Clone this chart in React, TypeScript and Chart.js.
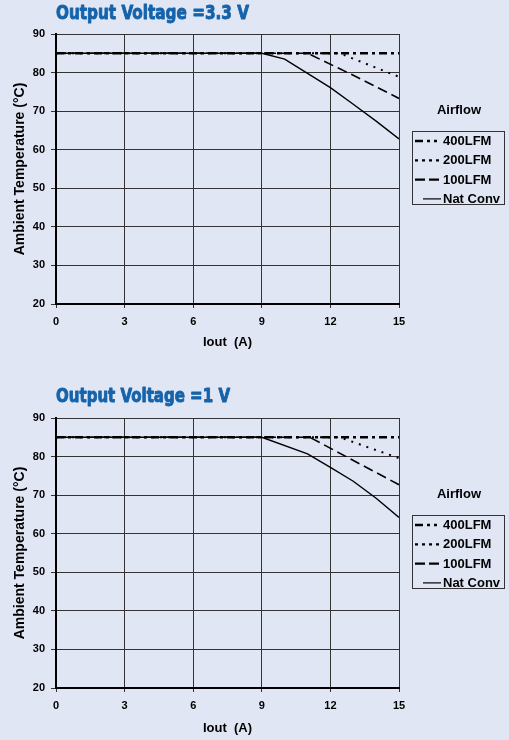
import React, { useEffect, useRef } from 'react';
import { Chart, registerables } from 'chart.js';

Chart.register(...registerables);

// ---------- data ----------
const xTickValues = [0, 3, 6, 9, 12, 15];
const yTickValues = [20, 30, 40, 50, 60, 70, 80, 90];
const seriesLabels = ['400LFM', '200LFM', '100LFM', 'Nat Conv'];

// Output Voltage = 3.3 V
const v33Lfm400X = [0, 15];
const v33Lfm400Y = [85, 85];
const v33Lfm200X = [0, 12.4, 15];
const v33Lfm200Y = [85, 85, 78.9];
const v33Lfm100X = [0, 11, 13, 15];
const v33Lfm100Y = [85, 85, 79.3, 73.3];
const v33NatX = [0, 9, 10, 11, 12, 13, 14, 15];
const v33NatY = [85, 85, 83.5, 79.8, 76.1, 71.8, 67.4, 62.8];

// Output Voltage = 1 V
const v1Lfm400X = [0, 15];
const v1Lfm400Y = [85, 85];
const v1Lfm200X = [0, 12.4, 15];
const v1Lfm200Y = [85, 85, 79.6];
const v1Lfm100X = [0, 11.1, 15];
const v1Lfm100Y = [85, 85, 72.7];
const v1NatX = [0, 9, 11, 12, 13, 14, 15];
const v1NatY = [85, 85, 80.7, 77.2, 73.6, 69.2, 64.2];

const BG = '#e0e6f4';
const TITLE_BLUE = '#1463ab';
const FONT = '"Liberation Sans", Arial, sans-serif';

const lineStyles = [
  { dash: [8, 4, 3, 4], legendDash: [8, 4, 3, 4, 3, 4], width: 2.5 },
  { dash: [2, 6], legendDash: [3, 4], width: 2 },
  { dash: [10, 5], legendDash: [10, 4], width: 1.6 },
  { dash: [], legendDash: [], width: 1.4 },
];

const zip = (xs: number[], ys: number[]) => xs.map((x, i) => ({ x, y: ys[i] }));

type Geo = {
  title: string;
  titleWidth: number;
  titleY: number;
  plotTop: number;
  plotBottom: number;
  height: number;
  xTitlePad: number;
};

function makeChart(canvas: HTMLCanvasElement, geo: Geo, xs: number[][], ys: number[][]) {
  const datasets = seriesLabels.map((label, i) => ({
    label,
    data: zip(xs[i], ys[i]),
    borderColor: '#000',
    backgroundColor: '#000',
    borderWidth: lineStyles[i].width,
    borderDash: lineStyles[i].dash,
    pointRadius: 0,
    tension: 0,
    fill: false,
  }));

  const overlay = {
    id: 'overlay',
    afterDraw(chart: any) {
      const ctx = chart.ctx as CanvasRenderingContext2D;
      const area = chart.chartArea;
      // title
      ctx.save();
      ctx.font = 'bold 20px "Liberation Sans Narrow", "DejaVu Sans Condensed", "Liberation Sans", sans-serif';
      ctx.fillStyle = TITLE_BLUE;
      ctx.strokeStyle = TITLE_BLUE;
      ctx.lineWidth = 0.9;
      ctx.lineJoin = 'round';
      ctx.textBaseline = 'middle';
      ctx.textAlign = 'left';
      const w = ctx.measureText(geo.title).width;
      ctx.translate(area.left, geo.titleY);
      ctx.scale(geo.titleWidth / w, 1);
      ctx.fillText(geo.title, 0, 0);
      ctx.strokeText(geo.title, 0, 0);
      ctx.restore();

      // legend
      const top = area.top;
      ctx.save();
      ctx.font = `bold 13px ${FONT}`;
      ctx.fillStyle = '#000';
      ctx.textBaseline = 'middle';
      ctx.textAlign = 'center';
      ctx.fillText('Airflow', 459, top + 76);
      ctx.strokeStyle = '#333';
      ctx.lineWidth = 1;
      ctx.strokeRect(412.5, top + 97.5, 92, 73);
      ctx.textAlign = 'left';
      seriesLabels.forEach((label, i) => {
        const y = top + 107 + i * 19.3;
        ctx.save();
        ctx.strokeStyle = '#000';
        ctx.lineWidth = i === 0 ? 2.5 : i === 3 ? 1.2 : 2.2;
        ctx.setLineDash(lineStyles[i].legendDash);
        ctx.beginPath();
        ctx.moveTo(i === 3 ? 423 : 415, y);
        ctx.lineTo(441, y);
        ctx.stroke();
        ctx.restore();
        ctx.fillText(label, 443, y + 0.5);
      });
      ctx.restore();
    },
  };

  return new Chart(canvas, {
    type: 'line',
    data: { datasets },
    plugins: [overlay],
    options: {
      animation: false,
      responsive: false,
      devicePixelRatio: 1,
      layout: { padding: { top: geo.plotTop, left: 0, right: 110, bottom: 0 } },
      plugins: {
        legend: { display: false },
        title: { display: false },
        tooltip: { enabled: false },
      },
      scales: {
        x: {
          type: 'linear',
          min: 0,
          max: 15,
          afterBuildTicks: (s: any) => {
            s.ticks = xTickValues.map((v) => ({ value: v }));
          },
          afterFit: (s: any) => {
            s.height = geo.height - geo.plotBottom;
          },
          ticks: {
            color: '#000',
            font: { family: FONT, size: 11, weight: 'bold' },
            padding: 7,
            maxRotation: 0,
          },
          grid: { color: '#333', lineWidth: 1, tickLength: 4, drawTicks: true },
          border: { display: true, color: '#000', width: 2 },
          title: {
            display: true,
            text: 'Iout  (A)',
            color: '#000',
            font: { family: FONT, size: 13, weight: 'bold' },
            padding: { top: 0, bottom: geo.xTitlePad },
          },
        },
        y: {
          type: 'linear',
          min: 20,
          max: 90,
          afterBuildTicks: (s: any) => {
            s.ticks = yTickValues.map((v) => ({ value: v }));
          },
          afterFit: (s: any) => {
            s.width = 56;
          },
          ticks: {
            color: '#000',
            font: { family: FONT, size: 11, weight: 'bold' },
            padding: 6,
          },
          grid: { color: '#333', lineWidth: 1, tickLength: 5, drawTicks: true },
          border: { display: true, color: '#000', width: 2 },
          title: {
            display: true,
            text: 'Ambient Temperature (°C)',
            color: '#000',
            font: { family: FONT, size: 14, weight: 'bold' },
            padding: { top: 12, bottom: 0 },
          },
        },
      },
    } as any,
  });
}

function Panel({ geo, xs, ys }: { geo: Geo; xs: number[][]; ys: number[][] }) {
  const ref = useRef<HTMLCanvasElement | null>(null);
  useEffect(() => {
    if (!ref.current) return;
    const chart = makeChart(ref.current, geo, xs, ys);
    return () => chart.destroy();
  }, []);
  return <canvas ref={ref} width={509} height={geo.height} style={{ display: 'block', width: 509, height: geo.height }} />;
}

export default function App() {
  const geo1: Geo = {
    title: 'Output Voltage =3.3 V',
    titleWidth: 193,
    titleY: 13.5,
    plotTop: 34,
    plotBottom: 304,
    height: 370,
    xTitlePad: 20,
  };
  const geo2: Geo = {
    title: 'Output Voltage =1 V',
    titleWidth: 174,
    titleY: 27,
    plotTop: 48,
    plotBottom: 318,
    height: 370,
    xTitlePad: 4,
  };
  return (
    <div style={{ position: 'absolute', left: 0, top: 0, width: 509, height: 740, background: BG, overflow: 'hidden' }}>
      <Panel
        geo={geo1}
        xs={[v33Lfm400X, v33Lfm200X, v33Lfm100X, v33NatX]}
        ys={[v33Lfm400Y, v33Lfm200Y, v33Lfm100Y, v33NatY]}
      />
      <Panel
        geo={geo2}
        xs={[v1Lfm400X, v1Lfm200X, v1Lfm100X, v1NatX]}
        ys={[v1Lfm400Y, v1Lfm200Y, v1Lfm100Y, v1NatY]}
      />
    </div>
  );
}
